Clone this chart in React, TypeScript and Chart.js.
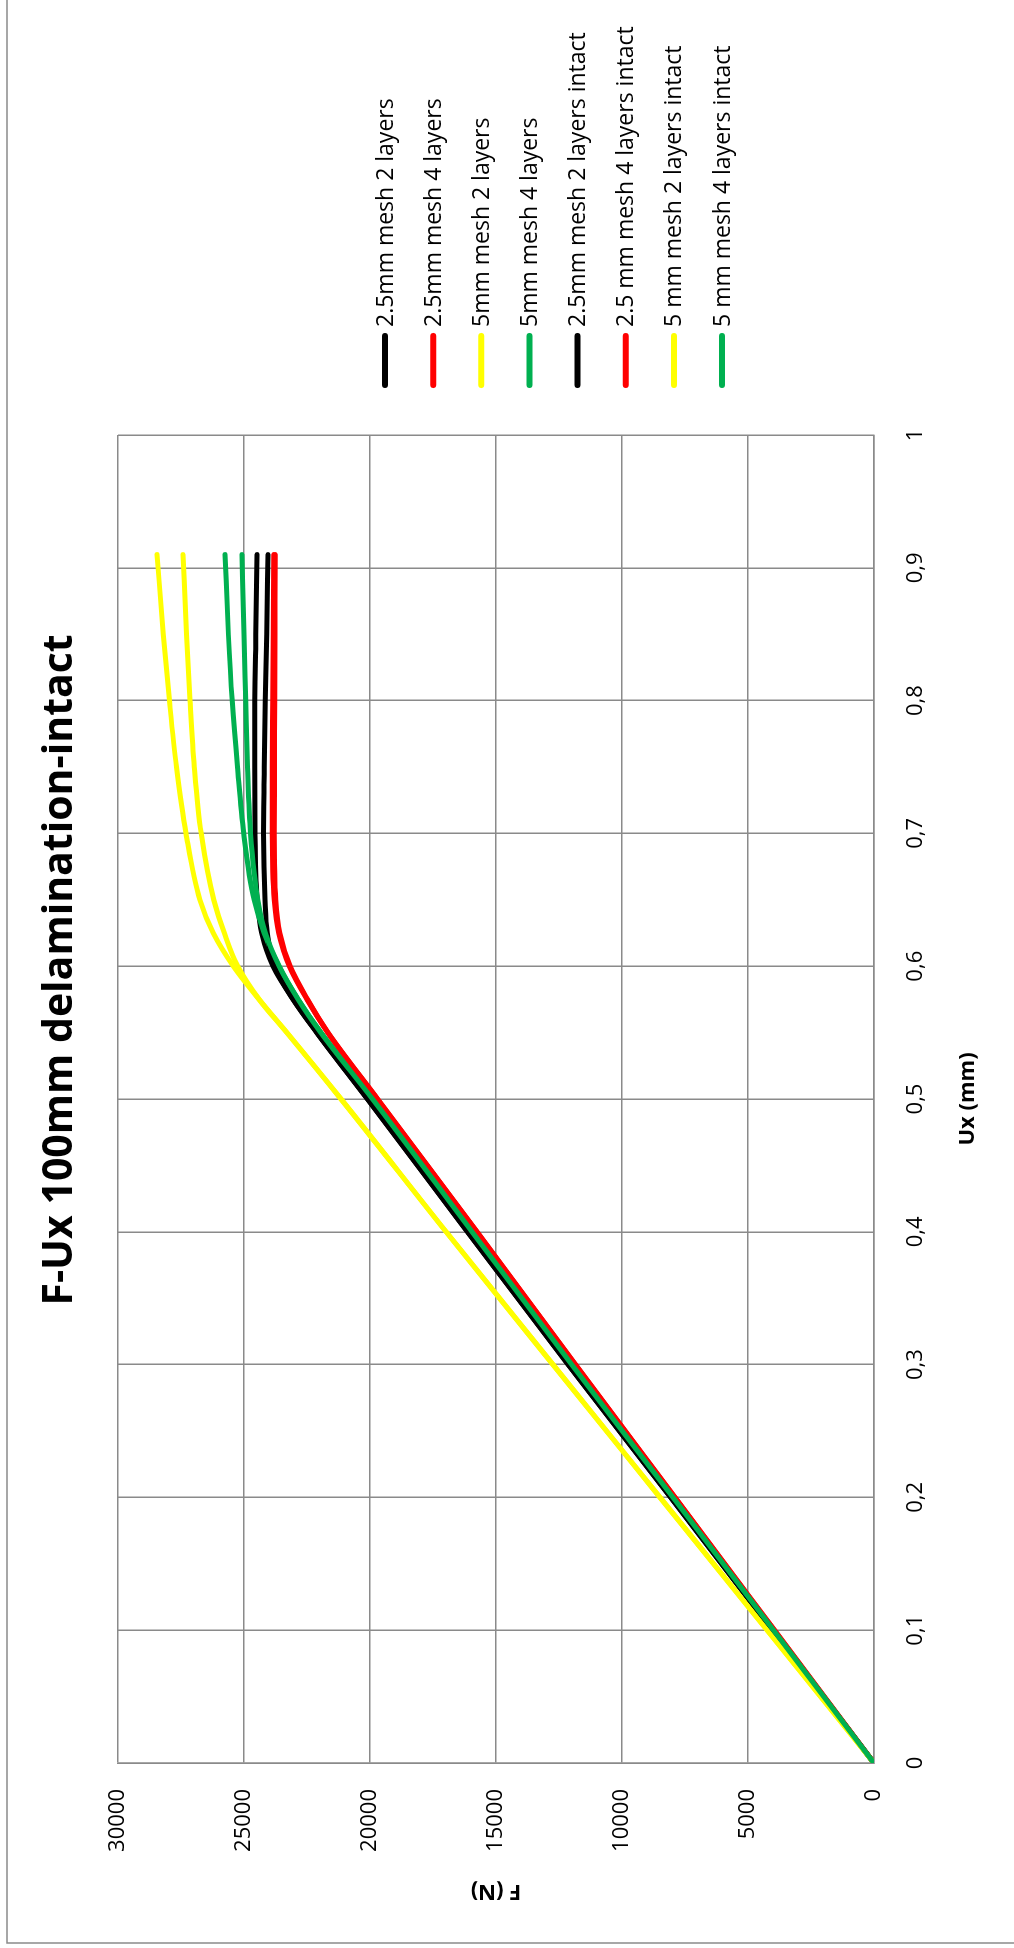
import React, { useEffect, useRef } from 'react';
import { Chart, registerables } from 'chart.js';

Chart.register(...registerables);

// ---- data ----
const uxValues = [0, 0.1, 0.2, 0.3, 0.4, 0.5, 0.55, 0.575, 0.6, 0.625, 0.65, 0.7, 0.75, 0.8, 0.85, 0.91];

const mesh25Layers2 = [0, 4030, 8070, 12130, 16130, 20100, 22110, 23050, 23850, 24300, 24470, 24560, 24570, 24570, 24530, 24480];
const mesh25Layers4 = [0, 3950, 7900, 11850, 15750, 19700, 21670, 22500, 23200, 23620, 23800, 23880, 23880, 23860, 23840, 23820];
const mesh5Layers2 = [0, 4240, 8490, 12740, 16980, 21150, 23300, 24400, 25420, 26220, 26750, 27300, 27680, 27960, 28200, 28450];
const mesh5Layers4 = [0, 3990, 7980, 11990, 15950, 19900, 21950, 22850, 23620, 24200, 24600, 25010, 25260, 25470, 25620, 25750];
const mesh25Layers2Intact = [0, 4030, 8070, 12130, 16130, 20100, 22110, 23050, 23800, 24080, 24170, 24230, 24200, 24160, 24100, 24050];
const mesh25Layers4Intact = [0, 3950, 7900, 11850, 15750, 19700, 21670, 22480, 23170, 23580, 23740, 23800, 23790, 23780, 23770, 23760];
const mesh5Layers2Intact = [0, 4240, 8490, 12740, 16980, 21150, 23300, 24400, 25250, 25780, 26200, 26700, 26970, 27140, 27280, 27420];
const mesh5Layers4Intact = [0, 3990, 7980, 11990, 15950, 19900, 21950, 22850, 23600, 24150, 24450, 24740, 24860, 24930, 25000, 25080];

const seriesNames = [
  '2.5mm mesh 2 layers',
  '2.5mm mesh 4 layers',
  '5mm mesh 2 layers',
  '5mm mesh 4 layers',
  '2.5mm mesh 2 layers intact',
  '2.5 mm mesh 4 layers intact',
  '5 mm mesh 2 layers intact',
  '5 mm mesh 4 layers intact',
];
const seriesValues = [
  mesh25Layers2,
  mesh25Layers4,
  mesh5Layers2,
  mesh5Layers4,
  mesh25Layers2Intact,
  mesh25Layers4Intact,
  mesh5Layers2Intact,
  mesh5Layers4Intact,
];
const seriesColors = ['#000000', '#FF0000', '#FFFF00', '#00B050', '#000000', '#FF0000', '#FFFF00', '#00B050'];

const xTickLabels = ['0', '0,1', '0,2', '0,3', '0,4', '0,5', '0,6', '0,7', '0,8', '0,9', '1'];
const yTickLabels = ['0', '5000', '10000', '15000', '20000', '25000', '30000'];

const chartTitle = 'F-Ux 100mm delamination-intact';
const xAxisTitle = 'Ux (mm)';
const yAxisTitle = 'F (N)';

// ---- layout (unrotated canvas) ----
const W = 1948;
const H = 1014;
const FONT = "'Open Sans', 'DejaVu Sans', sans-serif";
const GRID = '#8a8a8a';

const decorPlugin = {
  id: 'decor',
  beforeDraw(chart: any) {
    const ctx = chart.ctx;
    ctx.save();
    ctx.fillStyle = '#ffffff';
    ctx.fillRect(0, 0, chart.width, chart.height);
    ctx.strokeStyle = GRID;
    ctx.lineWidth = 1.5;
    ctx.strokeRect(5, 7, chart.width + 50, chart.height + 50);
    ctx.restore();
  },
  afterDraw(chart: any) {
    const ctx = chart.ctx;
    ctx.save();
    // title
    ctx.fillStyle = '#000';
    ctx.font = `bold 41px ${FONT}`;
    ctx.textAlign = 'center';
    ctx.textBaseline = 'alphabetic';
    ctx.fillText(chartTitle, 978, 72);
    // legend
    const ds = chart.data.datasets;
    ctx.font = `23px ${FONT}`;
    ctx.textAlign = 'left';
    ctx.textBaseline = 'middle';
    for (let i = 0; i < ds.length; i++) {
      const v = 385 + 48.15 * i;
      ctx.strokeStyle = ds[i].borderColor;
      ctx.lineWidth = 6;
      ctx.lineCap = 'round';
      ctx.beginPath();
      ctx.moveTo(1563, v);
      ctx.lineTo(1612, v);
      ctx.stroke();
      ctx.fillStyle = '#000';
      ctx.fillText(ds[i].label, 1621, v + 1);
    }
    ctx.restore();
  },
};

export default function App() {
  const ref = useRef<HTMLCanvasElement | null>(null);

  useEffect(() => {
    if (!ref.current) return;
    const datasets = seriesValues.map((vals, i) => ({
      label: seriesNames[i],
      data: uxValues.map((x, j) => ({ x, y: vals[j] })),
      borderColor: seriesColors[i],
      backgroundColor: seriesColors[i],
      borderWidth: 5,
      pointRadius: 0,
      fill: false,
      cubicInterpolationMode: 'monotone' as const,
      borderCapStyle: 'round' as const,
      borderJoinStyle: 'round' as const,
      order: seriesValues.length - i,
    }));

    const chart = new Chart(ref.current, {
      type: 'line',
      data: { datasets },
      plugins: [decorPlugin],
      options: {
        responsive: false,
        devicePixelRatio: 1,
        animation: false,
        layout: { padding: { left: 0, top: 118, right: W - 1513, bottom: 0 } },
        plugins: {
          legend: { display: false },
          title: { display: false },
          tooltip: { enabled: false },
        },
        scales: {
          x: {
            type: 'linear',
            min: 0,
            max: 1,
            ticks: {
              stepSize: 0.1,
              autoSkip: false,
              maxRotation: 0,
              padding: 29,
              color: '#000',
              font: { family: FONT, size: 22 },
              callback: (v: any) => xTickLabels[Math.round(Number(v) * 10)],
            },
            grid: { color: GRID, lineWidth: 1.5, drawTicks: false },
            border: { color: GRID, width: 1.5 },
            title: {
              display: true,
              text: xAxisTitle,
              color: '#000',
              font: { family: FONT, size: 22, weight: 'bold' },
              padding: { top: 0, bottom: 33 },
            },
            afterFit: (s: any) => {
              s.height = H - 874;
            },
          },
          y: {
            type: 'linear',
            min: 0,
            max: 30000,
            ticks: {
              stepSize: 5000,
              padding: 26,
              color: '#000',
              font: { family: FONT, size: 22 },
              callback: (v: any) => yTickLabels[Math.round(Number(v) / 5000)],
            },
            grid: { color: GRID, lineWidth: 1.5, drawTicks: false },
            border: { color: GRID, width: 1.5 },
            title: {
              display: true,
              text: yAxisTitle,
              color: '#000',
              font: { family: FONT, size: 22, weight: 'bold' },
              padding: { top: 44, bottom: 0 },
            },
            afterFit: (s: any) => {
              s.width = 185;
            },
          },
        },
      },
    });
    return () => chart.destroy();
  }, []);

  return (
    <div style={{ position: 'absolute', left: 0, top: 0, width: H, height: W, overflow: 'hidden', background: '#fff' }}>
      <div
        style={{
          position: 'absolute',
          left: 0,
          top: 0,
          width: W,
          height: H,
          transformOrigin: '0 0',
          transform: `translate(0px, ${W}px) rotate(-90deg)`,
        }}
      >
        <canvas ref={ref} width={W} height={H} style={{ width: W, height: H, display: 'block' }} />
      </div>
    </div>
  );
}
